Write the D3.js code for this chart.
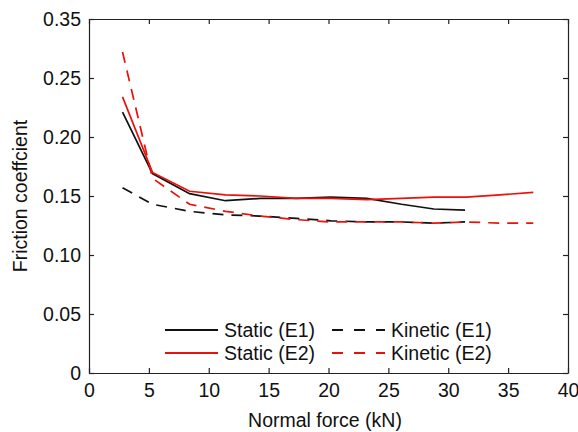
<!DOCTYPE html>
<html>
<head>
<meta charset="utf-8">
<script src="https://cdn.jsdelivr.net/npm/d3@7"></script>
<style>
  body { margin: 0; background: #fff; }
  svg text { font-family: "Liberation Sans", Arial, sans-serif; fill: #111; }
</style>
</head>
<body>
<svg id="chart" width="578" height="432"></svg>
<script>
// Data
const xTicks = [0, 5, 10, 15, 20, 25, 30, 35, 40];
const yTicks = [0, 0.05, 0.10, 0.15, 0.20, 0.25, 0.30];
const yTickLabels = ["0", "0.05", "0.10", "0.15", "0.20", "0.25", "0.35"]; // as printed

const forceE1 = [2.8, 5.3, 8.4, 11.4, 14.3, 17.3, 20.2, 23.2, 26.1, 28.8, 31.4];
const forceE2 = [2.8, 5.3, 8.4, 11.4, 14.3, 17.3, 20.2, 23.2, 26.1, 28.8, 31.5, 34.3, 37.1];

const staticE1 = [0.221, 0.169, 0.152, 0.146, 0.148, 0.148, 0.149, 0.148, 0.143, 0.139, 0.138];
const kineticE1 = [0.157, 0.143, 0.137, 0.134, 0.133, 0.131, 0.129, 0.128, 0.128, 0.127, 0.128];
const staticE2 = [0.234, 0.170, 0.154, 0.151, 0.150, 0.148, 0.148, 0.147, 0.148, 0.149, 0.149, 0.151, 0.153];
const kineticE2 = [0.272, 0.165, 0.143, 0.137, 0.133, 0.130, 0.128, 0.128, 0.128, 0.127, 0.128, 0.127, 0.127];

const series = [
    { label: "Static (E1)", x: forceE1, y: staticE1, color: "#111", dash: null },
    { label: "Kinetic (E1)", x: forceE1, y: kineticE1, color: "#111", dash: "11,8" },
    { label: "Static (E2)", x: forceE2, y: staticE2, color: "#e8120c", dash: null },
    { label: "Kinetic (E2)", x: forceE2, y: kineticE2, color: "#e8120c", dash: "11,8" }
];

const margin = { left: 89, right: 10, top: 19, bottom: 59 };
const width = 578, height = 432;
const fontSize = 19.5;

const svg = d3.select("#chart");

const x = d3.scaleLinear().domain([0, 40]).range([margin.left, width - margin.right]);
const y = d3.scaleLinear().domain([0, 0.30]).range([height - margin.bottom, margin.top]);

const axisColor = "#222";
const tickLen = 5;

// Bottom axis with labels
const axBottom = svg.append("g")
    .attr("transform", `translate(0,${y(0)})`)
    .call(d3.axisBottom(x).tickValues(xTicks).tickSizeInner(-tickLen).tickSizeOuter(0).tickPadding(9).tickFormat(d3.format("d")));
// Top axis, ticks only
const axTop = svg.append("g")
    .attr("transform", `translate(0,${y(0.30)})`)
    .call(d3.axisTop(x).tickValues(xTicks).tickSizeInner(-tickLen).tickSizeOuter(0).tickFormat(""));
// Left axis with labels
const axLeft = svg.append("g")
    .attr("transform", `translate(${x(0)},0)`)
    .call(d3.axisLeft(y).tickValues(yTicks).tickSizeInner(-tickLen).tickSizeOuter(0).tickPadding(8)
        .tickFormat((d, i) => yTickLabels[i]));
// Right axis, ticks only
const axRight = svg.append("g")
    .attr("transform", `translate(${x(40)},0)`)
    .call(d3.axisRight(y).tickValues(yTicks).tickSizeInner(-tickLen).tickSizeOuter(0).tickFormat(""));

[axBottom, axTop, axLeft, axRight].forEach(g => {
    g.selectAll("path, line").attr("stroke", axisColor).attr("stroke-width", 1.2);
    g.selectAll("text").attr("font-size", fontSize).attr("fill", "#111")
        .style("font-family", "Liberation Sans, Arial, sans-serif");
});
axBottom.selectAll("text").attr("dy", "0.78em");

// Lines
const line = d3.line().x(d => x(d[0])).y(d => y(d[1]));
series.forEach(s => {
    svg.append("path")
        .datum(s.x.map((v, i) => [v, s.y[i]]))
        .attr("d", line)
        .attr("fill", "none")
        .attr("stroke", s.color)
        .attr("stroke-width", 1.7)
        .attr("stroke-dasharray", s.dash);
});

// Legend (two columns, no box)
const legendPos = [
    { col: 0, row: 0 }, { col: 1, row: 0 }, { col: 0, row: 1 }, { col: 1, row: 1 }
];
const colX = [165, 332];
const rowY = [330, 353];
series.forEach((s, i) => {
    const p = legendPos[i];
    const g = svg.append("g").attr("transform", `translate(${colX[p.col]},${rowY[p.row]})`);
    g.append("line")
        .attr("x1", 0).attr("x2", 53).attr("y1", 0).attr("y2", 0)
        .attr("stroke", s.color).attr("stroke-width", 1.9)
        .attr("stroke-dasharray", s.dash ? "11,11" : null);
    g.append("text")
        .attr("x", 59).attr("y", 0).attr("dy", "0.35em")
        .attr("font-size", fontSize)
        .text(s.label);
});

// Axis titles
svg.append("text")
    .attr("x", 325).attr("y", 427)
    .attr("text-anchor", "middle")
    .attr("font-size", fontSize)
    .text("Normal force (kN)");

svg.append("text")
    .attr("transform", `translate(27,${y(0.15)}) rotate(-90)`)
    .attr("text-anchor", "middle")
    .attr("font-size", fontSize)
    .text("Friction coeffcient");
</script>
</body>
</html>
